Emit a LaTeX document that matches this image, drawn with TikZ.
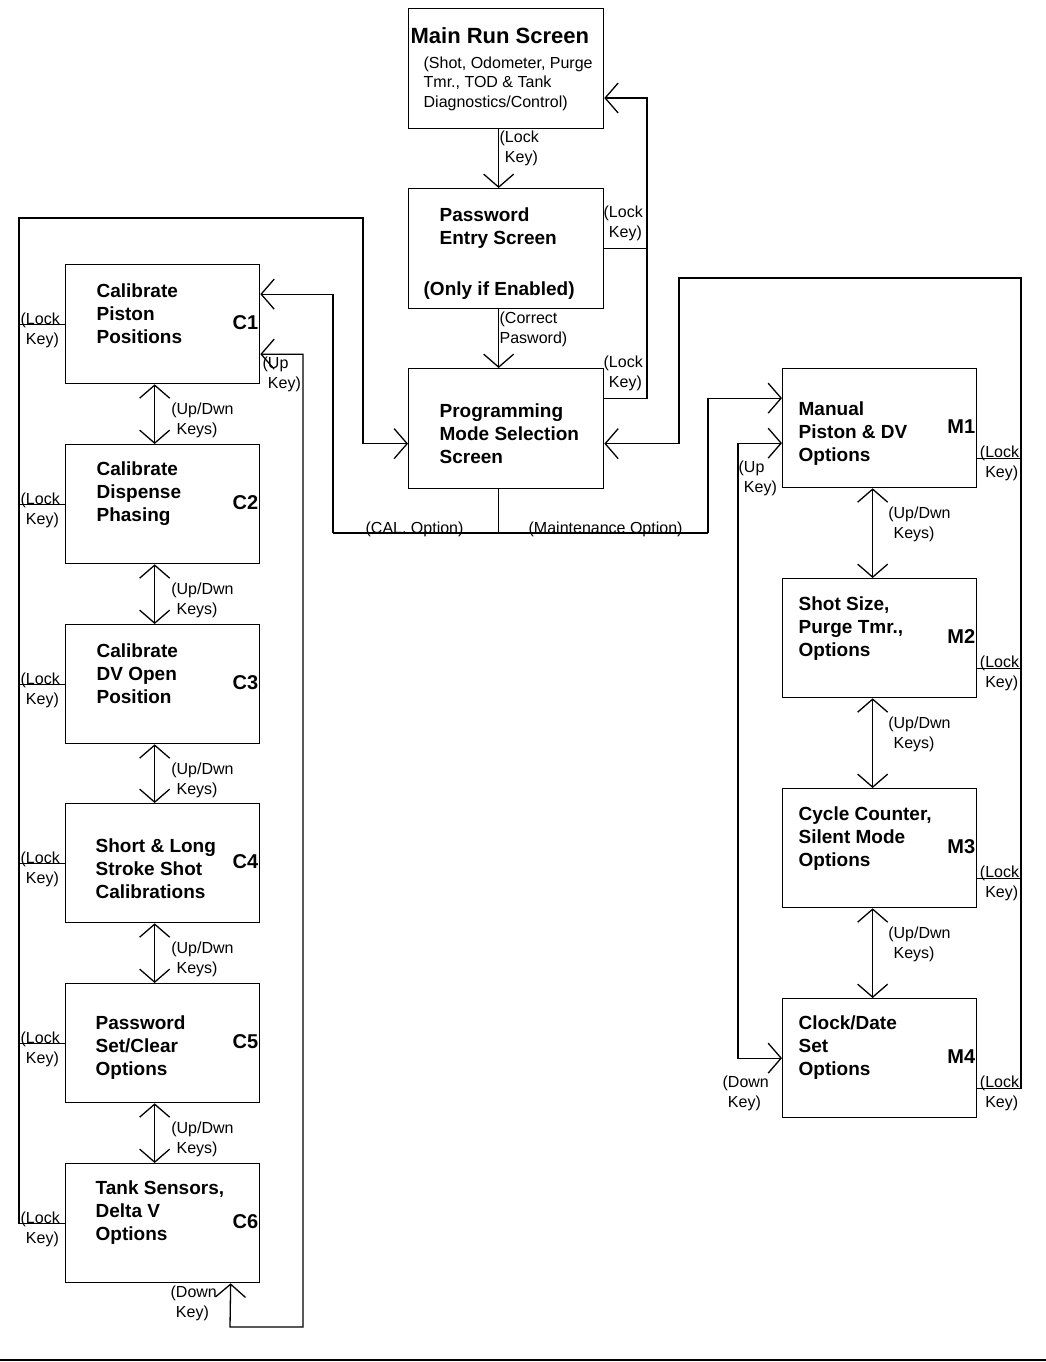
\documentclass[tikz,border=0pt]{standalone}
\usepackage{fontspec}
\setmainfont{Liberation Sans}
\usetikzlibrary{arrows.meta,calc}
\begin{document}
\begin{tikzpicture}[x=1pt,y=-1pt,line width=1.3pt,
  box/.style={draw, minimum width=195pt, minimum height=120pt, inner sep=0pt, anchor=north west},
  sbox/.style={draw, minimum width=194pt, minimum height=119pt, inner sep=0pt, anchor=north west},
  bt/.style={font=\fontsize{19}{23}\selectfont\bfseries, align=left, inner sep=0pt, anchor=west},
  st/.style={font=\fontsize{16}{20}\selectfont, align=left, inner sep=0pt, anchor=west},
  idl/.style={font=\fontsize{20}{24}\selectfont\bfseries, inner sep=0pt, anchor=east},
  arr/.style={-{Straight Barb[length=13pt,width=30pt]}},
  darr/.style={{Straight Barb[length=13pt,width=30pt]}-{Straight Barb[length=13pt,width=30pt]}}]
\useasboundingbox (0,0) rectangle (1046,1362);

% ---------- boxes ----------
\node[box] (main) at (408,8) {};
\node[box] (pass) at (408,188) {};
\node[box] (prog) at (408,368) {};
\node[sbox] (c1) at (65,264) {};
\node[sbox] (c2) at (65,444) {};
\node[sbox] (c3) at (65,624) {};
\node[sbox] (c4) at (65,803) {};
\node[sbox] (c5) at (65,983) {};
\node[sbox] (c6) at (65,1163) {};
\node[sbox] (m1) at (782,368) {};
\node[sbox] (m2) at (782,578) {};
\node[sbox] (m3) at (782,788) {};
\node[sbox] (m4) at (782,998) {};

% ---------- box texts ----------
\node[font=\fontsize{22}{26}\selectfont\bfseries, inner sep=0pt, anchor=base west] (maint) at (410,44) {Main Run Screen};
\node[font=\fontsize{16}{19.5}\selectfont, align=left, inner sep=0pt, anchor=west] (mains) at (423,83.5)
  {(Shot, Odometer, Purge\\Tmr., TOD \& Tank\\Diagnostics/Control)};
\node[bt] (passt) at (439,228) {Password\\Entry Screen};
\node[bt] (passo) at (423,291) {(Only if Enabled)};
\node[bt] (progt) at (439,434) {Programming\\Mode Selection\\Screen};

\node[bt] (c1t) at (96,314) {Calibrate\\Piston\\Positions};
\node[bt] (c2t) at (96,494) {Calibrate\\Dispense\\Phasing};
\node[bt] (c3t) at (96,674) {Calibrate\\DV Open\\Position};
\node[bt] (c4t) at (95,869) {Short \& Long\\Stroke Shot\\Calibrations};
\node[bt] (c5t) at (95,1048) {Password\\Set/Clear\\Options};
\node[bt] (c6t) at (95,1213) {Tank Sensors,\\Delta V\\Options};
\node[bt] (m1t) at (798,434) {Manual\\Piston \& DV\\Options};
\node[bt] (m2t) at (798,629) {Shot Size,\\Purge Tmr.,\\Options};
\node[bt] (m3t) at (798,839) {Cycle Counter,\\Silent Mode\\Options};
\node[bt] (m4t) at (798,1048) {Clock/Date\\Set\\Options};

\foreach \b/\t in {c1/C1,c2/C2,c3/C3,c4/C4,c5/C5,c6/C6,m1/M1,m2/M2,m3/M3,m4/M4}
  \node[idl] (\b-id) at ($(\b.east)+(-1.5,-1.5)$) {\t};

% ---------- connectors ----------
\draw[arr] ($(main.south)+(-7.5,0)$) -- ($(pass.north)+(-7.5,0)$);
\draw[arr] ($(pass.south)+(-7.5,0)$) -- ($(prog.north)+(-7.5,0)$);

\coordinate (rk) at (647,98);
\draw[arr] (pass.east) -| (rk) -- (main.east |- rk);
\draw ($(prog.east)+(0,-30)$) -| (rk);

% left lock spine
\coordinate (ls) at (19,218);
\coordinate (lt) at (363,218);
\draw[arr] (c6.west) -| (ls) -- (lt) |- ($(prog.west)+(0,15)$);
\foreach \c in {c1,c2,c3,c4,c5}
  \draw (\c.west) -- (\c.west -| ls);

% CAL / Maintenance split
\coordinate (pb) at ($(prog.south)+(-7.5,45)$);
\coordinate (calo) at (333,533);
\coordinate (mnto) at (708,533);
\draw ($(prog.south)+(-7.5,0)$) -- (pb);
\draw (calo) -- (mnto);
\draw[arr] (calo) |- ($(c1.east)+(0,-30)$);
\draw[arr] (mnto) |- ($(m1.west)+(0,-30)$);

% C chain
\foreach \a/\b in {c1/c2,c2/c3,c3/c4,c4/c5,c5/c6}
  \draw[darr] ($(\a.south)+(-8,0)$) -- ($(\b.north)+(-8,0)$);

% C6 down / C1 up loop
\coordinate (cd1) at (230,1327);
\coordinate (cd2) at (303,1327);
\draw[darr] ($(c6.south)+(68,0)$) -- (cd1) -- (cd2) |- ($(c1.east)+(0,30)$);

% M chain
\foreach \a/\b in {m1/m2,m2/m3,m3/m4}
  \draw[darr] ($(\a.south)+(-7,0)$) -- ($(\b.north)+(-7,0)$);

% right lock spine
\coordinate (rs) at (1021,278);
\coordinate (rt) at (679,278);
\draw[arr] ($(m4.east)+(0,30)$) -| (rs) -- (rt) |- ($(prog.east)+(0,15)$);
\foreach \m in {m1,m2,m3}
  \draw ($(\m.east)+(0,30)$) -- ($(\m.east -| rs)+(0,30)$);

% M up/down loop
\draw[darr] ($(m1.west)+(0,15)$) -- ($(m1.west)+(-44,15)$) |- (m4.west);

% bottom rule
\draw[line width=2pt] (0,1360) -- (1046,1360);

% ---------- labels ----------
\node[st] (lk0) at (499,148) {(Lock\\\hphantom{(}Key)};
\node[st] (lk1) at (603,223) {(Lock\\\hphantom{(}Key)};
\node[st] (lk2) at (603,373) {(Lock\\\hphantom{(}Key)};
\node[st] (cpw) at (499,329) {(Correct\\Pasword)};
\foreach \c in {c1,c2,c3,c4,c5,c6}
  \node[st] (\c-lk) at ($(\c.west)+(-45,6)$) {(Lock\\\hphantom{(}Key)};
\foreach \a in {c1,c2,c3,c4,c5}
  \node[st] (\a-ud) at ($(\a.south)+(8,36)$) {(Up/Dwn\\\hphantom{(}Keys)};
\foreach \a in {m1,m2,m3}
  \node[st] (\a-ud) at ($(\a.south)+(8,36)$) {(Up/Dwn\\\hphantom{(}Keys)};
\foreach \m in {m1,m2,m3,m4}
  \node[st] (\m-lk) at ($(\m.east)+(2,35)$) {(Lock\\\hphantom{(}Key)};
\node[st] (c1up) at (262,374) {(Up\\\hphantom{(}Key)};
\node[st] (c6dn) at (170,1303) {(Down\\\hphantom{(}Key)};
\node[st] (m1up) at (738,478) {(Up\\\hphantom{(}Key)};
\node[st] (m4dn) at (722,1093) {(Down\\\hphantom{(}Key)};
\node[font=\fontsize{16}{20}\selectfont, inner sep=0pt, anchor=base west] (calt) at (365,533) {(CAL. Option)};
\node[font=\fontsize{16}{20}\selectfont, inner sep=0pt, anchor=base west] (mntt) at (528,533) {(Maintenance Option)};
\end{tikzpicture}
\end{document}
